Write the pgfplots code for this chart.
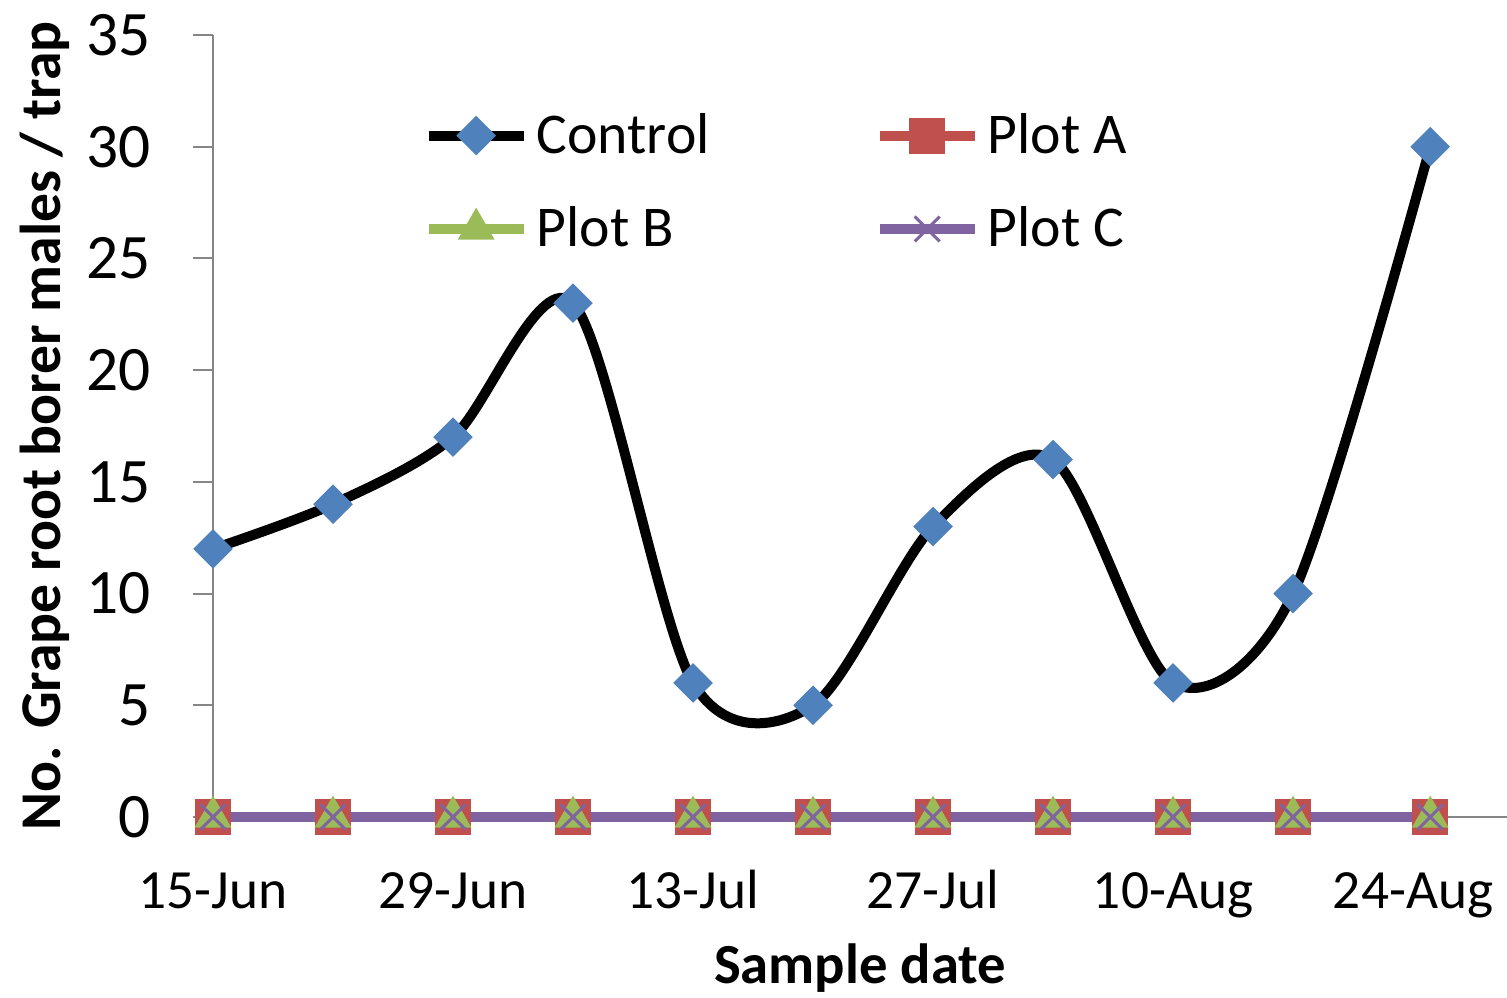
\documentclass[border=0pt]{standalone}
\usepackage{fontspec}
\setmainfont{Carlito}
\usepackage{pgfplots}
\pgfplotsset{compat=1.18}
\definecolor{cblue}{HTML}{4F81BD}
\definecolor{cred}{HTML}{C0504D}
\definecolor{cgreen}{HTML}{9BBB59}
\definecolor{cpurple}{HTML}{8064A2}
\definecolor{axgray}{HTML}{868686}
\begin{document}
\begin{tikzpicture}
\begin{axis}[
  name=ax,
  scale only axis,
  width=388.2pt, height=234.6pt,
  xmin=0, xmax=75.48, ymin=0, ymax=35,
  clip=false,
  axis x line*=bottom, axis y line*=left,
  axis line style={axgray, line width=0.6pt},
  xtick={0,14,28,42,56,70},
  xticklabels={15-Jun,29-Jun,13-Jul,27-Jul,10-Aug,24-Aug},
  ytick={0,5,10,15,20,25,30,35},
  xtick style={draw=none},
  ytick style={draw=axgray, line width=0.6pt},
  tick align=outside,
  major tick length=6pt,
  /pgf/number format/assume math mode=true,
  xticklabel style={font=\fontsize{16.6}{19}\selectfont, anchor=base, inner sep=0pt, yshift=-21.3pt},
  yticklabel style={font=\fontsize{19}{22}\selectfont, anchor=east, inner sep=0pt, xshift=-12.6pt},
  every axis x label/.style={at={(axis description cs:0.5,0)}, anchor=base, yshift=-49.8pt, font=\fontsize{17}{20}\selectfont\bfseries},
  every axis y label/.style={at={(axis description cs:0,0.5)}, rotate=90, anchor=center, yshift=50.4pt, font=\fontsize{17.3}{20}\selectfont\bfseries},
  xlabel={Sample date},
  ylabel={No. Grape root borer males / trap},
  legend columns=2,
  legend cell align=left,
  legend image code/.code={\draw[mark repeat=2, mark phase=2, #1] plot coordinates {(0pt,0pt) (14.25pt,0pt) (28.5pt,0pt)};},
  legend style={draw=none, fill=none, at={(0.1623,0.901)}, anchor=north west,
    font=\fontsize{17.3}{20}\selectfont, inner sep=0pt, row sep=14.5pt,
    nodes={inner sep=0pt},
    /tikz/every odd column/.append style={column sep=2.4pt},
    /tikz/every even column/.append style={column sep=49.5pt}},
]
\addplot[black, line width=3pt, smooth, tension=0.5, mark=square*, mark size=4pt,
  mark options={rotate=45, fill=cblue, draw=cblue, line width=0.4pt}]
  coordinates {(0,12)(7,14)(14,17)(21,23)(28,6)(35,5)(42,13)(49,16)(56,6)(63,10)(71,30)};
\addlegendentry{Control}
\addplot[cred, line width=3pt, mark=square*, mark size=5.2pt,
  mark options={fill=cred, draw=cred, line width=0.4pt}]
  coordinates {(0,0)(7,0)(14,0)(21,0)(28,0)(35,0)(42,0)(49,0)(56,0)(63,0)(71,0)};
\addlegendentry{Plot A}
\addplot[cgreen, line width=3pt, mark=triangle*, mark size=6pt,
  mark options={fill=cgreen, draw=cgreen, line width=0.4pt}]
  coordinates {(0,0)(7,0)(14,0)(21,0)(28,0)(35,0)(42,0)(49,0)(56,0)(63,0)(71,0)};
\addlegendentry{Plot B}
\addplot[cpurple, line width=3pt, mark=x, mark size=5.3pt,
  mark options={draw=cpurple, line width=0.9pt}]
  coordinates {(0,0)(7,0)(14,0)(21,0)(28,0)(35,0)(42,0)(49,0)(56,0)(63,0)(71,0)};
\addlegendentry{Plot C}
\end{axis}
\pgfresetboundingbox
\path[use as bounding box] ([xshift=-63.9pt, yshift=-54.3pt]ax.south west) rectangle ([yshift=10.5pt]ax.north east);
\end{tikzpicture}
\end{document}
